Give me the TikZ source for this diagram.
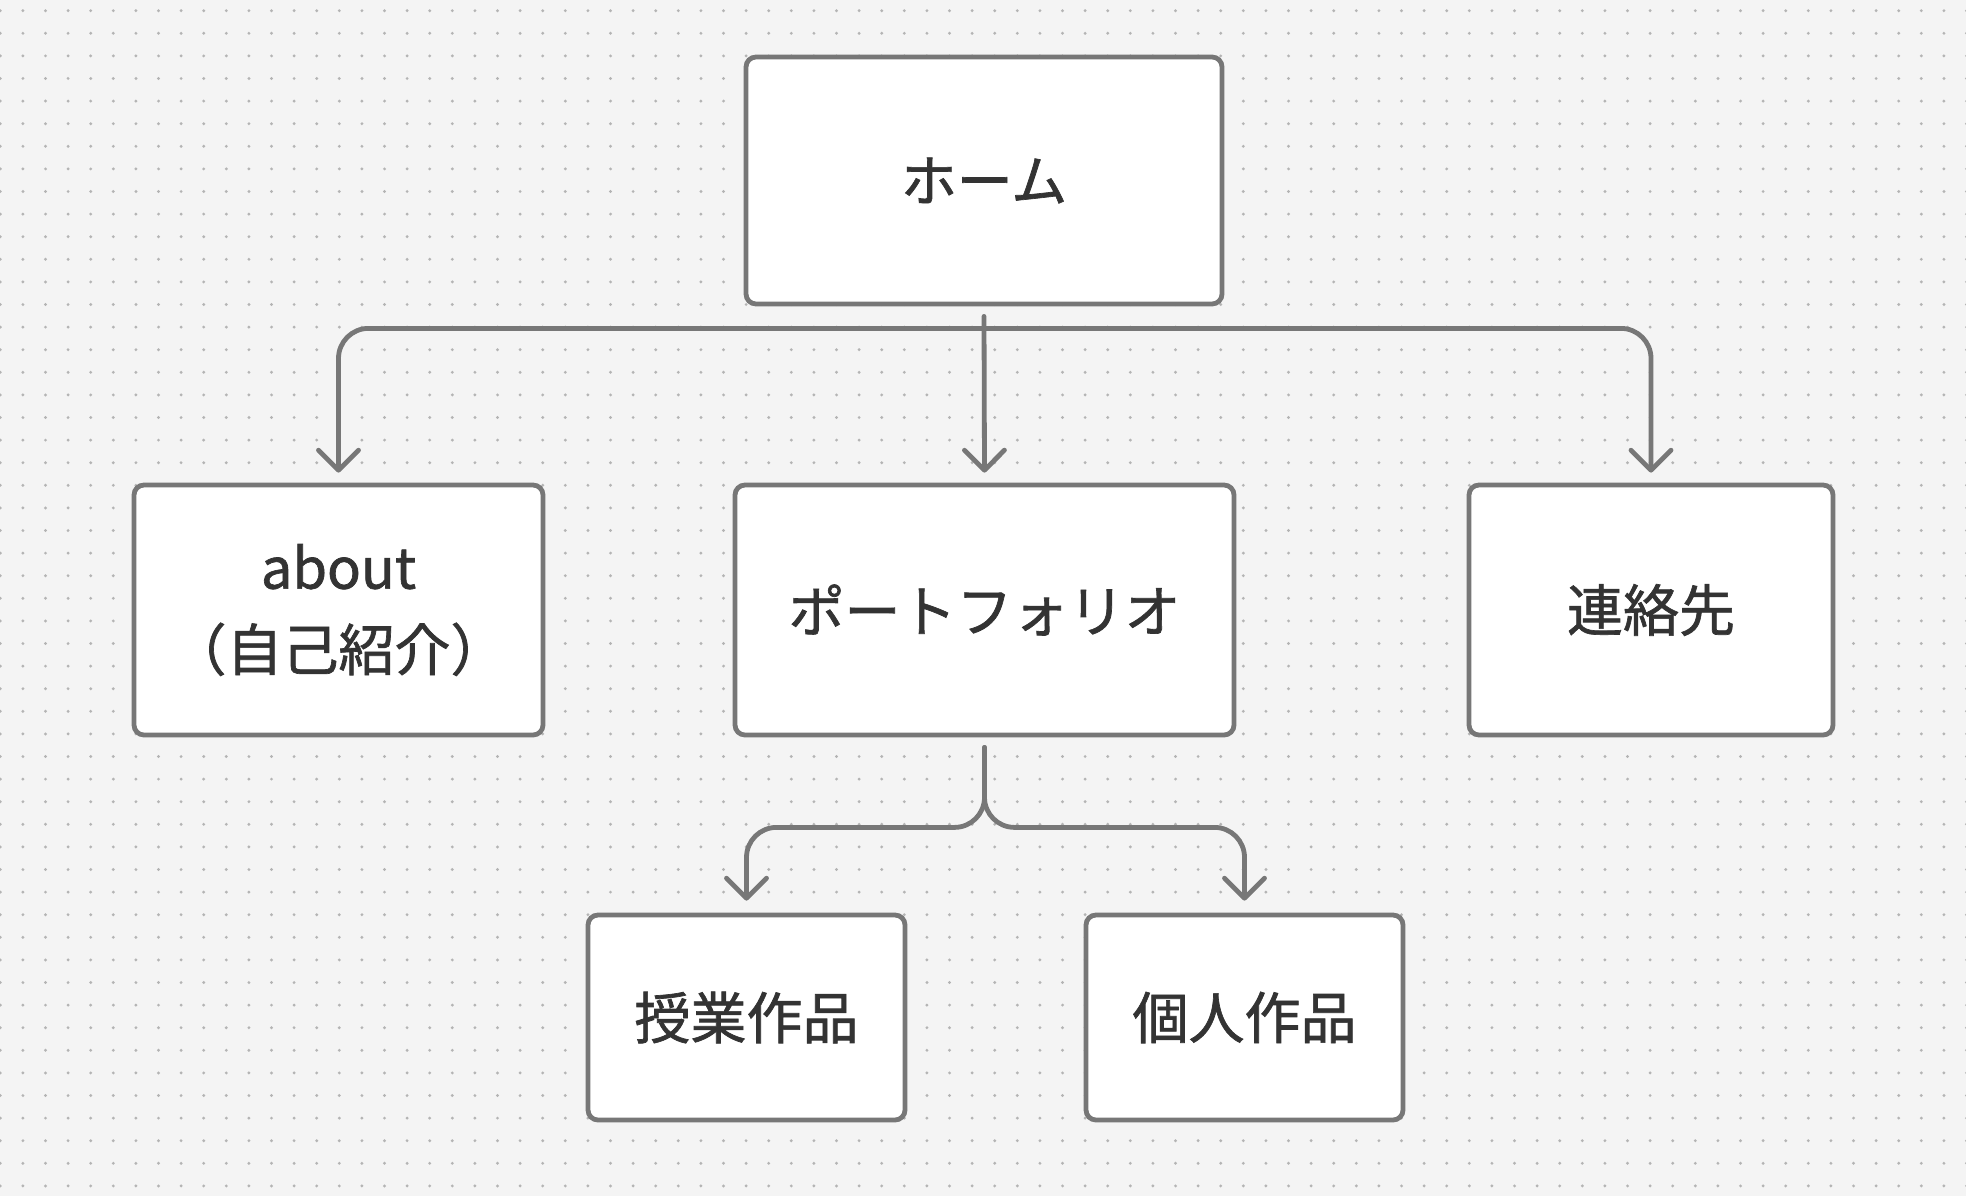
\documentclass[tikz,border=0pt]{standalone}
\usepackage{fontspec}
\setmainfont{Noto Sans CJK JP}[FakeBold=1.2]
\usetikzlibrary{arrows.meta,calc}
\definecolor{bgc}{HTML}{F4F4F4}
\definecolor{dotc}{HTML}{B4B4B4}
\definecolor{linec}{HTML}{777777}
\definecolor{textc}{HTML}{333333}
\tikzset{
  box/.style={draw=linec, line width=4.8pt, fill=white, rounded corners=10pt,
    text=textc, align=center, inner sep=0pt,
    font=\fontsize{56}{82}\selectfont},
  conn/.style={draw=linec, line width=4.8pt, line cap=round, rounded corners=30pt,
    -{Straight Barb[length=20pt,width=40pt,round]}},
}
\begin{document}
\begin{tikzpicture}[x=1pt,y=-1pt]
\fill[bgc] (0,0) rectangle (1966,1196);
\useasboundingbox (0,0) rectangle (1966,1196);
\foreach \i in {0,...,87}{
  \foreach \j in {0,...,52}{
    \fill[dotc] (0.3+22.6*\i,10.7+22.6*\j) circle (1.6);
  }
}
\node[box, minimum width=476pt, minimum height=247pt] (home) at (984,180.5) {ホーム};
\node[box, minimum width=409pt, minimum height=250pt] (about) at (338.5,610) {about\\（自己紹介）};
\node[box, minimum width=499pt, minimum height=250pt] (port) at (984.5,610) {ポートフォリオ};
\node[box, minimum width=364pt, minimum height=250pt] (contact) at (1651,610) {連絡先};
\node[box, minimum width=317pt, minimum height=205pt] (jugyo) at (746.5,1017.5) {授業作品};
\node[box, minimum width=317pt, minimum height=205pt] (kojin) at (1244.5,1017.5) {個人作品};

\draw[conn] ($(home.south)+(0,22)$) -| ($(about.north)+(0,-10)$);
\draw[conn] ($(home.south)+(0,22)$) -| ($(contact.north)+(0,-10)$);
\draw[conn] ($(home.south)+(0,10)$) -- ($(port.north)+(0,-10)$);

\draw[conn] ($(port.south)+(0,10)$) -- ($(port.south)+(0,90)$) -| ($(jugyo.north)+(0,-12)$);
\draw[conn] ($(port.south)+(0,10)$) -- ($(port.south)+(0,90)$) -| ($(kojin.north)+(0,-12)$);
\end{tikzpicture}
\end{document}
